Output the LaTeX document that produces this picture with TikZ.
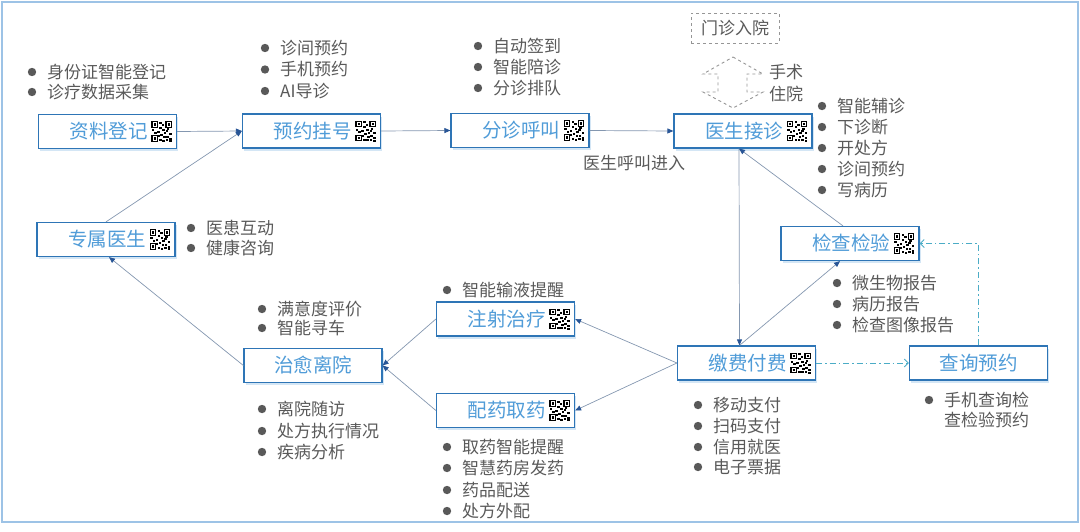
\documentclass[tikz,border=0pt]{standalone}
\usepackage{fontspec}
\setmainfont{Noto Sans CJK SC}
\usetikzlibrary{arrows.meta,shadows}
\definecolor{boxc}{RGB}{46,117,182}
\definecolor{lblc}{RGB}{80,156,216}
\definecolor{txtc}{RGB}{89,89,89}
\definecolor{linec}{RGB}{132,151,176}
\definecolor{tipc}{RGB}{40,85,150}
\definecolor{dashc}{RGB}{75,172,198}
\definecolor{framec}{RGB}{157,195,230}
\definecolor{grayc}{RGB}{150,150,150}
\tikzset{
  box/.style={draw=boxc, line width=1.2pt, fill=white, minimum width=138pt, minimum height=34pt, inner sep=0pt,
    drop shadow={shadow xshift=1.5pt, shadow yshift=-2.5pt, fill=lblc!45, opacity=0.55}},
  lbl/.style={text=lblc, font=\fontsize{19.5}{22}\selectfont, inner sep=0pt},
  btxt/.style={text=txtc, font=\fontsize{17}{20}\selectfont, inner sep=0pt, anchor=west},
  conn/.style={draw=linec, line width=0.7pt, -{Triangle[length=6pt,width=5pt,color=tipc,fill=tipc]}},
  dconn/.style={draw=dashc, line width=0.9pt, dash pattern=on 6pt off 3pt on 1.5pt off 3pt, -{Straight Barb[length=4pt,width=8pt,line width=0.9pt]}},
  qr/.pic={
    \foreach \p/\q in {-7/-7,7/-7,-7/7}{
      \draw[black, line width=1.1pt] (\p-2.6,\q-2.6) rectangle (\p+2.6,\q+2.6);
      \fill[black] (\p-1.1,\q-1.1) rectangle (\p+1.1,\q+1.1);}
    \foreach \p/\q in {-2.5/-10,0/-7.5,-2.5/-5,0.5/-2.5,-10/-2.5,-7.5/0,-4.5/-1,4/-1.5,7.5/1,-1.5/2,1.5/4.5,4.5/4,7.5/6,-2.5/7.5,0.5/8,4/7.5,7.5/8.5,-4.5/3.5,2/0.5,5/-3.5}{
      \fill[black] (\p,\q) rectangle ++(2.4,2.4);}
  }
}
\newcommand\bul[4]{%
  \fill[txtc] (#1,#2) circle (4.2pt);
  \node[btxt] (#3) at ({#1+15},#2) {#4};}
\newcommand\qbox[4]{% name, x, y, label
  \node[box] (#1) at (#2,#3) {};
  \node[lbl, anchor=east] (#1-t) at ([xshift=-29pt]#1.east) {#4};
  \pic at ([xshift=-15.5pt]#1.east) {qr};}
\begin{document}
\begin{tikzpicture}[x=1pt,y=-1pt]
\useasboundingbox (0,0) rectangle (1080,531);
\draw[framec, line width=1.5pt] (2,2) rectangle (1078,522);

% boxes
\qbox{zl}{107.5}{131.5}{资料登记}
\qbox{yy}{311.5}{131}{预约挂号}
\qbox{fz}{520}{130.5}{分诊呼叫}
\qbox{ys}{743}{131}{医生接诊}
\qbox{zs}{106}{239.5}{专属医生}
\qbox{zsh}{505.5}{319}{注射治疗}
\qbox{py}{505.5}{410.5}{配药取药}
\qbox{jf}{746.5}{363}{缴费付费}
\qbox{jc}{850}{243.5}{检查检验}
\node[box] (zy) at (313,365.5) {};
\node[lbl] (zy-t) at (zy.center) {治愈离院};
\node[box] (cx) at (978.5,363) {};
\node[lbl] (cx-t) at (cx.center) {查询预约};

% dashed top elements
\node[draw=grayc, dashed, line width=0.9pt, minimum width=88pt, minimum height=30pt, inner sep=0pt,
      text=txtc, font=\fontsize{17}{20}\selectfont] (mz) at (735,28) {门诊入院};
\draw[grayc, dashed, line width=0.9pt] (733,57) -- (763,74) -- (747,74) -- (747,92) -- (763,92) -- (733,108)
   -- (703,92) -- (718,92) -- (718,74) -- (703,74) -- cycle;
\node[btxt] (ss) at (769,72) {手术};
\node[btxt] (zyy) at (769,94) {住院};

% bullet lists
\bul{32}{72}{b1}{身份证智能登记}
\bul{32}{92}{b2}{诊疗数据采集}
\bul{265}{48}{b3}{诊间预约}
\bul{265}{69.5}{b4}{手机预约}
\bul{265}{91}{b5}{AI导诊}
\bul{478}{46}{b6}{自动签到}
\bul{478}{67}{b7}{智能陪诊}
\bul{478}{88}{b8}{分诊排队}
\bul{822}{106}{b9}{智能辅诊}
\bul{822}{127}{b10}{下诊断}
\bul{822}{148}{b11}{开处方}
\bul{822}{169}{b12}{诊间预约}
\bul{822}{190}{b13}{写病历}
\bul{191}{228}{b14}{医患互动}
\bul{191}{248}{b15}{健康咨询}
\bul{262}{309}{b16}{满意度评价}
\bul{262}{328}{b17}{智能寻车}
\bul{262}{409}{b18}{离院随访}
\bul{262}{431}{b19}{处方执行情况}
\bul{262}{452}{b20}{疾病分析}
\bul{447}{290}{b21}{智能输液提醒}
\bul{447}{447}{b22}{取药智能提醒}
\bul{447}{468}{b23}{智慧药房发药}
\bul{447}{490}{b24}{药品配送}
\bul{447}{511}{b25}{处方外配}
\bul{698}{405}{b26}{移动支付}
\bul{698}{426}{b27}{扫码支付}
\bul{698}{447}{b28}{信用就医}
\bul{698}{467}{b29}{电子票据}
\bul{837}{283}{b30}{微生物报告}
\bul{837}{304}{b31}{病历报告}
\bul{837}{325}{b32}{检查图像报告}
\bul{929}{400}{b33}{手机查询检}
\node[btxt] (b34) at (944,420) {查检验预约};

\node[text=txtc, font=\fontsize{17}{20}\selectfont, inner sep=0pt] (hj) at (634,163) {医生呼叫进入};

% connectors
\draw[conn] (zl.east) -- (yy.west);
\draw[conn] (zs.north) -- (yy.west);
\draw[conn] (yy.east) -- (fz.west);
\draw[conn] (fz.east) -- (ys.west);
\coordinate (ysb) at ([xshift=-4pt]ys.south);
\coordinate (jft) at ([xshift=-7pt]jf.north);
\draw[conn] (ysb) -- (jft);
\draw[conn] ([xshift=-7pt]jc.north) -- (ysb);
\draw[conn] (jft) -- ([xshift=-10pt]jc.south);
\draw[conn] (jf.west) -- (zsh.east);
\draw[conn] (jf.west) -- (py.east);
\draw[conn] (zsh.west) -- (zy.east);
\draw[conn] (py.west) -- (zy.east);
\draw[conn] (zy.west) -- ([xshift=3pt]zs.south);
\draw[dconn] (jf.east) -- (cx.west);
\draw[dconn] (cx.north) |- (jc.east);
\end{tikzpicture}
\end{document}
